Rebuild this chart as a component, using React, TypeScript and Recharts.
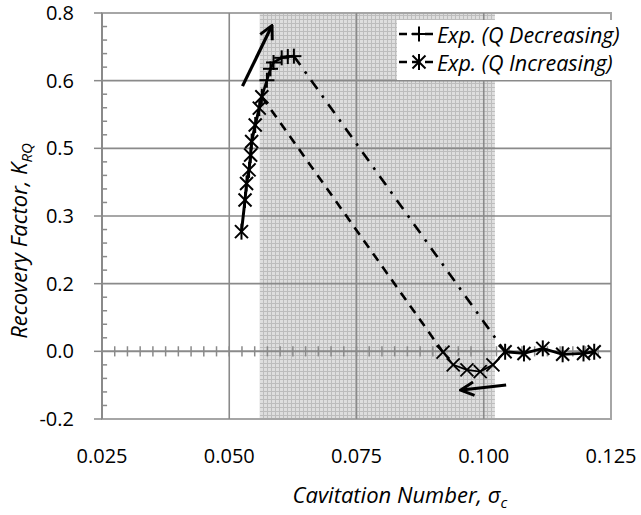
import {
  LineChart,
  Line,
  XAxis,
  YAxis,
  ReferenceArea,
  ReferenceLine,
  Label,
} from "recharts";

const xTicks = [0.025, 0.05, 0.075, 0.1, 0.125];
const yTicks = [-0.16, 0, 0.16, 0.32, 0.48, 0.64, 0.8];

// Q increasing, low sigma branch climbing up to the peak (asterisks)
const incLeft = [
  { x: 0.0524, y: 0.283 },
  { x: 0.0531, y: 0.358 },
  { x: 0.0534, y: 0.397 },
  { x: 0.0539, y: 0.429 },
  { x: 0.0542, y: 0.464 },
  { x: 0.0544, y: 0.496 },
  { x: 0.0551, y: 0.535 },
  { x: 0.0559, y: 0.575 },
  { x: 0.0564, y: 0.602 },
];

// Q decreasing, points across the peak (plus markers)
const decTop = [
  { x: 0.0574, y: 0.641 },
  { x: 0.0581, y: 0.668 },
  { x: 0.0587, y: 0.683 },
  { x: 0.0603, y: 0.694 },
  { x: 0.0615, y: 0.697 },
  { x: 0.0627, y: 0.698 },
];

// high sigma points near zero (asterisks)
const incRight = [
  { x: 0.1042, y: -0.001 },
  { x: 0.1079, y: -0.005 },
  { x: 0.1116, y: 0.007 },
  { x: 0.1155, y: -0.007 },
  { x: 0.1196, y: -0.005 },
  { x: 0.1217, y: -0.001 },
];

// dip below zero (x markers)
const dip = [
  { x: 0.1018, y: -0.032 },
  { x: 0.0993, y: -0.048 },
  { x: 0.0967, y: -0.044 },
  { x: 0.094, y: -0.032 },
  { x: 0.092, y: -0.002 },
];

const peakLink = [incLeft[incLeft.length - 1], decTop[0]];
const dipLink = [incRight[0], dip[0]];
const riseDashed = [dip[dip.length - 1], incLeft[incLeft.length - 1]];
const fallDashDot = [decTop[decTop.length - 1], incRight[0]];

const shadedBand = [0.056, 0.1022];
const arrowUp = [
  { x: 0.0526, y: 0.627 },
  { x: 0.0583, y: 0.768 },
];
const arrowLeft = [
  { x: 0.1044, y: -0.0796 },
  { x: 0.0957, y: -0.0915 },
];

const minorX: number[] = [];
for (let i = 1; i < 40; i++) minorX.push(0.025 + i * 0.0025);
const minorY: number[] = [];
for (let i = 1; i < 30; i++) if (i % 5 !== 0) minorY.push(-0.16 + i * 0.032);

const FONT = "'Open Sans', sans-serif";
const GRID = "#8a8a8a";

function Asterisk({ cx, cy }: { cx?: number; cy?: number }) {
  if (cx == null || cy == null) return null;
  const r = 8;
  const d = 6.5;
  return (
    <g stroke="#000" strokeWidth={2}>
      <line x1={cx} y1={cy - r} x2={cx} y2={cy + r} />
      <line x1={cx - d} y1={cy - d} x2={cx + d} y2={cy + d} />
      <line x1={cx - d} y1={cy + d} x2={cx + d} y2={cy - d} />
    </g>
  );
}

function Plus({ cx, cy }: { cx?: number; cy?: number }) {
  if (cx == null || cy == null) return null;
  const r = 7.5;
  return (
    <g stroke="#000" strokeWidth={2}>
      <line x1={cx - r} y1={cy} x2={cx + r} y2={cy} />
      <line x1={cx} y1={cy - r} x2={cx} y2={cy + r} />
    </g>
  );
}

function Cross({ cx, cy }: { cx?: number; cy?: number }) {
  if (cx == null || cy == null) return null;
  const d = 6.5;
  return (
    <g stroke="#000" strokeWidth={1.8}>
      <line x1={cx - d} y1={cy - d} x2={cx + d} y2={cy + d} />
      <line x1={cx - d} y1={cy + d} x2={cx + d} y2={cy - d} />
    </g>
  );
}

function XTick({ x, y, payload }: any) {
  return (
    <text x={x} y={y + 36} textAnchor="middle" fontFamily={FONT} fontSize={20} fill="#000">
      {Number(payload.value).toFixed(3)}
    </text>
  );
}

function YTick({ x, y, payload }: any) {
  return (
    <text x={x - 18} y={y + 7} textAnchor="end" fontFamily={FONT} fontSize={20} fill="#000">
      {Number(payload.value).toFixed(1)}
    </text>
  );
}

function LegendRow({ label, marker }: { label: string; marker: "plus" | "ast" }) {
  return (
    <div style={{ display: "flex", alignItems: "center", height: 28 }}>
      <svg width={38} height={20}>
        <line x1={1} y1={10} x2={37} y2={10} stroke="#000" strokeWidth={2.5} strokeDasharray="8 5" />
        {marker === "plus" ? <Plus cx={21} cy={10} /> : <Asterisk cx={21} cy={10} />}
      </svg>
      <span style={{ fontFamily: FONT, fontStyle: "italic", fontSize: 21.5, marginLeft: 1, whiteSpace: "nowrap" }}>
        {label}
      </span>
    </div>
  );
}

export default function App() {
  return (
    <div style={{ position: "relative", width: 641, height: 515, background: "#fff" }}>
      <style>{"body{margin:0}"}</style>
      <LineChart width={641} height={515} margin={{ top: 13, right: 30, bottom: 0, left: 0 }}>
        <defs>
          <pattern id="smallGrid" width={4} height={4} patternUnits="userSpaceOnUse">
            <rect width={4} height={4} fill="#dedede" />
            <rect x={3} y={0} width={1} height={4} fill="#bdbdbd" />
            <rect x={0} y={3} width={4} height={1} fill="#bdbdbd" />
          </pattern>
          <marker id="arrowHead" viewBox="0 0 12 12" refX={10} refY={6} markerWidth={5} markerHeight={5} orient="auto">
            <path d="M1,1 L11,6 L1,11" fill="none" stroke="#000" strokeWidth={2.2} />
          </marker>
        </defs>
        <XAxis
          dataKey="x"
          type="number"
          domain={[0.025, 0.125]}
          ticks={xTicks}
          axisLine={false}
          tickLine={false}
          height={96}
          tick={XTick}
          allowDataOverflow
        >
          <Label
            content={() => (
              <text x={400} y={503} textAnchor="middle" fontFamily={FONT} fontStyle="italic" fontSize={22} fill="#000">
                Cavitation Number, σ
                <tspan fontSize={15} dy={5}>c</tspan>
              </text>
            )}
          />
        </XAxis>
        <YAxis
          type="number"
          domain={[-0.16, 0.8]}
          ticks={yTicks}
          width={102}
          axisLine={{ stroke: GRID, strokeWidth: 2 }}
          tickLine={{ stroke: GRID, strokeWidth: 1.5 }}
          tickSize={8}
          tick={YTick}
          allowDataOverflow
        >
          <Label
            content={() => (
              <text
                x={0}
                y={0}
                transform="translate(27,241) rotate(-90)"
                textAnchor="middle"
                fontFamily={FONT}
                fontStyle="italic"
                fontSize={22}
                fill="#000"
              >
                Recovery Factor, K
                <tspan fontSize={15} dy={5}>RQ</tspan>
              </text>
            )}
          />
        </YAxis>
        <ReferenceArea x1={shadedBand[0]} x2={shadedBand[1]} y1={-0.16} y2={0.8} fill="url(#smallGrid)" fillOpacity={1} stroke="none" />
        <ReferenceArea x1={0.025} x2={0.125} y1={-0.16} y2={0.8} fill="none" stroke="#a6a6a6" strokeWidth={2} />
        {xTicks.slice(1, -1).map((v) => (
          <ReferenceLine key={"gx" + v} x={v} stroke={GRID} strokeWidth={1.6} />
        ))}
        {yTicks.slice(2, -1).map((v) => (
          <ReferenceLine key={"gy" + v} y={v} stroke={GRID} strokeWidth={1.6} />
        ))}
        <ReferenceLine y={0} stroke={GRID} strokeWidth={2} />
        {minorX.map((v) => (
          <ReferenceLine
            key={"mx" + v}
            segment={[
              { x: v, y: -0.012 },
              { x: v, y: 0.012 },
            ]}
            stroke={GRID}
            strokeWidth={1.5}
          />
        ))}
        {minorY.map((v) => (
          <ReferenceLine
            key={"my" + v}
            segment={[
              { x: 0.025, y: v },
              { x: 0.026, y: v },
            ]}
            stroke={GRID}
            strokeWidth={1.5}
          />
        ))}
        <Line data={riseDashed} dataKey="y" type="linear" stroke="#000" strokeWidth={2.6} strokeDasharray="9 7" dot={false} isAnimationActive={false} />
        <Line data={fallDashDot} dataKey="y" type="linear" stroke="#000" strokeWidth={2.6} strokeDasharray="11 8 2.5 8" dot={false} isAnimationActive={false} />
        <Line data={peakLink} dataKey="y" type="linear" stroke="#000" strokeWidth={2.6} dot={false} isAnimationActive={false} />
        <Line data={dipLink} dataKey="y" type="linear" stroke="#000" strokeWidth={2} dot={false} isAnimationActive={false} />
        <Line
          data={incLeft}
          dataKey="y"
          type="linear"
          stroke="#000"
          strokeWidth={3}
          dot={(p: any) => <Asterisk key={"a" + p.index} cx={p.cx} cy={p.cy} />}
          isAnimationActive={false}
        />
        <Line
          data={decTop}
          dataKey="y"
          type="linear"
          stroke="#000"
          strokeWidth={2.6}
          dot={(p: any) => <Plus key={"p" + p.index} cx={p.cx} cy={p.cy} />}
          isAnimationActive={false}
        />
        <Line
          data={incRight}
          dataKey="y"
          type="linear"
          stroke="#000"
          strokeWidth={2.8}
          dot={(p: any) => <Asterisk key={"r" + p.index} cx={p.cx} cy={p.cy} />}
          isAnimationActive={false}
        />
        <Line
          data={dip}
          dataKey="y"
          type="linear"
          stroke="#000"
          strokeWidth={1.8}
          dot={(p: any) => <Cross key={"c" + p.index} cx={p.cx} cy={p.cy} />}
          isAnimationActive={false}
        />
        <ReferenceLine segment={arrowUp} stroke="#000" strokeWidth={3.2} markerEnd="url(#arrowHead)" ifOverflow="visible" />
        <ReferenceLine segment={arrowLeft} stroke="#000" strokeWidth={3.2} markerEnd="url(#arrowHead)" ifOverflow="visible" />
      </LineChart>
      <div
        style={{
          position: "absolute",
          left: 397,
          top: 20,
          width: 240,
          height: 60,
          background: "#fff",
          paddingLeft: 1,
          boxSizing: "border-box",
        }}
      >
        <LegendRow label="Exp. (Q Decreasing)" marker="plus" />
        <LegendRow label="Exp. (Q Increasing)" marker="ast" />
      </div>
    </div>
  );
}
